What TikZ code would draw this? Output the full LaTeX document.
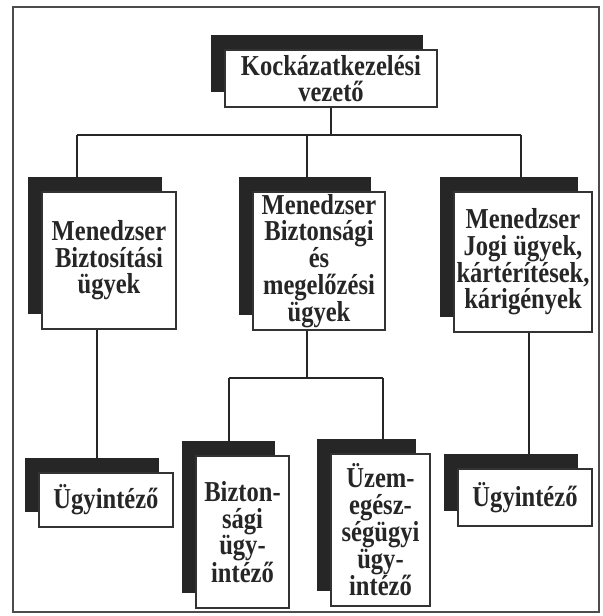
\documentclass[tikz,border=0pt]{standalone}
\usepackage{fontspec}
\setmainfont{Liberation Serif}[FakeStretch=0.85]
\usetikzlibrary{shadows}

\begin{document}
\begin{tikzpicture}[x=1bp,y=-1bp,
  card/.style={draw=black!80, line width=1.2bp, fill=white, inner sep=0pt,
    align=center, text=black!85, font={\fontsize{29}{26.5}\selectfont\bfseries},
    drop shadow={shadow xshift=-14bp, shadow yshift=15bp, fill=black!85, opacity=1}},
  link/.style={draw=black!85, line width=1.8bp},
  frame/.style={draw=black!70, line width=1.3bp}]
\useasboundingbox (0,0) rectangle (603,616);
\draw [frame] (13,7) rectangle (599,612);

\node [card, minimum width=212bp, minimum height=57bp] (ceo) at (331,78.5) {Kockázatkezelési\\vezető};

\node [card, minimum width=134bp, minimum height=137bp] (mgrA) at (109,260.5) {Menedzser\\Biztosítási\\ügyek};
\node [card, minimum width=132bp, minimum height=138bp] (mgrB) at (319,261) {Menedzser\\Biztonsági\\és\\megelőzési\\ügyek};
\node [card, minimum width=138bp, minimum height=140bp] (mgrC) at (523,262) {Menedzser\\Jogi ügyek,\\kártérítések,\\kárigények};

\node [card, minimum width=134bp, minimum height=54bp] (ugyA) at (106,500) {Ügyintéző};
\node [card, minimum width=93bp, minimum height=152bp] (bizt) at (242.5,532) {Bizton-\\sági\\ügy-\\intéző};
\node [card, minimum width=99bp, minimum height=152bp] (uzem) at (380.5,530) {Üzem-\\egész-\\ségügyi\\ügy-\\intéző};
\node [card, minimum width=134bp, minimum height=57bp] (ugyC) at (525,497.5) {Ügyintéző};

\coordinate (busL) at (77,135);
\coordinate (busM) at (307,135);
\coordinate (busR) at (521,135);
\draw [link] (ceo.south) -- (ceo.south |- busL);
\draw [link] (busL) -- (busR);
\draw [link] (busL) -- (busL |- mgrA.north);
\draw [link] (busM) -- (busM |- mgrB.north);
\draw [link] (busR) -- (busR |- mgrC.north);

\coordinate (legA) at (97,0);
\coordinate (legB) at (307,0);
\coordinate (legC) at (529,0);
\coordinate (subL) at (229,378);
\coordinate (subR) at (383,378);
\draw [link] (legA |- mgrA.south) -- (legA |- ugyA.north);
\draw [link] (legB |- mgrB.south) -- (legB |- subL);
\draw [link] (subL) -- (subR);
\draw [link] (subL) -- (subL |- bizt.north);
\draw [link] (subR) -- (subR |- uzem.north);
\draw [link] (legC |- mgrC.south) -- (legC |- ugyC.north);
\end{tikzpicture}
\end{document}
